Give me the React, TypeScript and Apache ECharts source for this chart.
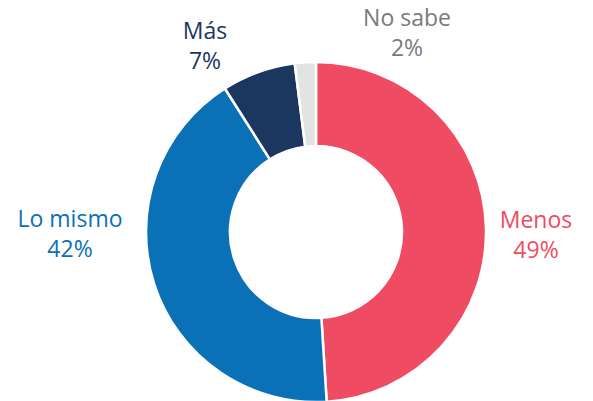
import React, { useEffect, useRef } from "react";
import * as echarts from "echarts";

const categories = ["Menos", "Lo mismo", "Más", "No sabe"];
const values = [49, 42, 7, 2];
const sliceColors = ["#EF4B62", "#0B71B6", "#1B365F", "#E2E4E3"];
const labelColors = ["#EF4B62", "#0B71B6", "#1B365F", "#7A7A7A"];
const labelPos: [number, number][] = [
  [536, 234],
  [70, 233],
  [205, 45],
  [407, 32],
];

export default function App() {
  const ref = useRef<HTMLDivElement>(null);
  useEffect(() => {
    document.body.style.margin = "0";
    const chart = echarts.init(ref.current!, undefined, { renderer: "svg" });
    chart.setOption({
      animation: false,
      series: [
        {
          type: "pie",
          center: [316, 232],
          radius: [86, 170],
          startAngle: 90,
          clockwise: true,
          avoidLabelOverlap: false,
          itemStyle: { borderColor: "#ffffff", borderWidth: 2.5 },
          label: {
            show: true,
            position: "outside",
            formatter: "{b}\n{c}%",
            fontFamily: "Open Sans",
            fontSize: 23,
            lineHeight: 30,
            align: "center",
            verticalAlign: "middle",
          },
          labelLine: { show: false },
          labelLayout: (p: any) => ({
            x: labelPos[p.dataIndex][0],
            y: labelPos[p.dataIndex][1],
            align: "center",
            verticalAlign: "middle",
          }),
          data: categories.map((c, i) => ({
            name: c,
            value: values[i],
            itemStyle: { color: sliceColors[i] },
            label: { color: labelColors[i] },
          })),
        },
      ],
    });
    return () => chart.dispose();
  }, []);
  return <div ref={ref} style={{ width: 593, height: 401 }} />;
}
